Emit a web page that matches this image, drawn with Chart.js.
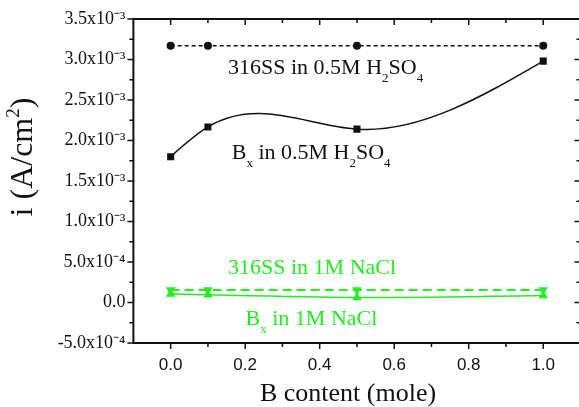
<!DOCTYPE html>
<html>
<head>
<meta charset="utf-8">
<script src="https://cdn.jsdelivr.net/npm/chart.js@4.4.1/dist/chart.umd.min.js"></script>
<style>
  html, body { margin: 0; padding: 0; background: #fff; overflow: hidden; }
  canvas { display: block; }
</style>
</head>
<body>
<canvas id="chart" width="579" height="407"></canvas>
<script>
// B content (mole)
var xValues = [0.0, 0.1, 0.5, 1.0];
// current density i (A/cm2)
var ss316H2SO4 = [3.17e-3, 3.17e-3, 3.17e-3, 3.17e-3];
var bxH2SO4 = [1.80e-3, 2.167e-3, 2.14e-3, 2.98e-3];
var ss316NaCl = [1.55e-4, 1.55e-4, 1.55e-4, 1.55e-4];
var bxNaCl = [1.05e-4, 0.95e-4, 0.62e-4, 0.85e-4];
// axis ticks
var xTicks = [0.0, 0.2, 0.4, 0.6, 0.8, 1.0];
var yTicks = [-5e-4, 0, 5e-4, 1e-3, 1.5e-3, 2e-3, 2.5e-3, 3e-3, 3.5e-3];

// the original frame runs to x = 1.1, a pixel or two past the picture edge
var X_FRAME_MAX = 1.1;
var X_VISIBLE_MAX = 1.096;

var BLACK = '#111';
var GREEN = '#22ee22';
var SERIF = "'Liberation Serif', 'Times New Roman', serif";
var SANS = "'Liberation Sans', Arial, sans-serif";

function toXY(ys) {
    return xValues.map(function (x, i) { return { x: x, y: ys[i] }; });
}

var supChars = { '-': '\u207B', '0': '\u2070', '1': '\u00B9', '2': '\u00B2', '3': '\u00B3', '4': '\u2074', '5': '\u2075', '6': '\u2076', '7': '\u2077', '8': '\u2078', '9': '\u2079' };
function sciLabel(v) {
    if (Math.abs(v) < 1e-12) return '0.0';
    var parts = v.toExponential(1).split('e');
    var exp = String(parseInt(parts[1], 10)).split('').map(function (c) { return supChars[c]; }).join('');
    return parts[0] + 'x10' + exp;
}

function midpoints(arr) {
    var out = [];
    for (var i = 0; i < arr.length - 1; i++) out.push((arr[i] + arr[i + 1]) / 2);
    return out;
}

// text labels placed in data coordinates; [text, 1] means subscript
var notes = [
    { x: 0.154, y: 2.82e-3, color: BLACK, parts: [['316SS in 0.5M H'], ['2', 1], ['SO'], ['4', 1]] },
    { x: 0.164, y: 1.768e-3, color: BLACK, parts: [['B'], ['x', 1], [' in 0.5M H'], ['2', 1], ['SO'], ['4', 1]] },
    { x: 0.154, y: 0.352e-3, color: GREEN, parts: [['316SS in 1M NaCl']] },
    { x: 0.201, y: -0.278e-3, color: GREEN, parts: [['B'], ['x', 1], [' in 1M NaCl']] }
];

// natural cubic spline through the plotted points (like Origin's spline connection)
var splinePlugin = {
    id: 'naturalSpline',
    beforeDatasetDraw: function (chart, args) {
        var ds = chart.data.datasets[args.index];
        if (!ds.spline) return;
        var pts = args.meta.data.map(function (p) { return { x: p.x, y: p.y }; });
        var n = pts.length;
        var h = [], s = [];
        for (var i = 0; i < n - 1; i++) {
            h.push(pts[i + 1].x - pts[i].x);
            s.push((pts[i + 1].y - pts[i].y) / h[i]);
        }
        var M = new Array(n).fill(0);
        if (n > 2) {
            var a = [], b = [], c = [], d = [];
            for (var k = 1; k < n - 1; k++) {
                a.push(h[k - 1]); b.push(2 * (h[k - 1] + h[k])); c.push(h[k]); d.push(6 * (s[k] - s[k - 1]));
            }
            var m = b.length;
            for (var j = 1; j < m; j++) {
                var w = a[j] / b[j - 1];
                b[j] -= w * c[j - 1];
                d[j] -= w * d[j - 1];
            }
            var sol = new Array(m);
            sol[m - 1] = d[m - 1] / b[m - 1];
            for (var q = m - 2; q >= 0; q--) sol[q] = (d[q] - c[q] * sol[q + 1]) / b[q];
            for (var r = 0; r < m; r++) M[r + 1] = sol[r];
        }
        var ctx = chart.ctx;
        ctx.save();
        ctx.strokeStyle = ds.borderColor;
        ctx.lineWidth = ds.splineWidth || 1.5;
        ctx.beginPath();
        ctx.moveTo(pts[0].x, pts[0].y);
        for (var t = 0; t < n - 1; t++) {
            var m0 = s[t] - h[t] * (2 * M[t] + M[t + 1]) / 6;
            var m1 = s[t] + h[t] * (M[t] + 2 * M[t + 1]) / 6;
            ctx.bezierCurveTo(pts[t].x + h[t] / 3, pts[t].y + m0 * h[t] / 3,
                pts[t + 1].x - h[t] / 3, pts[t + 1].y - m1 * h[t] / 3,
                pts[t + 1].x, pts[t + 1].y);
        }
        ctx.stroke();
        ctx.restore();
    }
};

// box frame with ticks on all four sides
var framePlugin = {
    id: 'frame',
    afterDatasetsDraw: function (chart) {
        var ctx = chart.ctx, a = chart.chartArea;
        var xs = chart.scales.x, ys = chart.scales.y;
        var right = xs.getPixelForValue(X_FRAME_MAX);
        ctx.save();
        ctx.strokeStyle = BLACK;
        ctx.lineWidth = 2;
        ctx.strokeRect(a.left, a.top, right - a.left, a.bottom - a.top);
        ctx.lineWidth = 1.5;
        ctx.beginPath();
        function xt(v, len) {
            var px = xs.getPixelForValue(v);
            ctx.moveTo(px, a.bottom); ctx.lineTo(px, a.bottom + len);
            ctx.moveTo(px, a.top); ctx.lineTo(px, a.top + len);
        }
        function yt(v, len) {
            var py = ys.getPixelForValue(v);
            ctx.moveTo(a.left, py); ctx.lineTo(a.left - len, py);
            ctx.moveTo(right, py); ctx.lineTo(right - len, py);
        }
        xTicks.forEach(function (v) { xt(v, 6); });
        midpoints(xTicks).forEach(function (v) { xt(v, 4); });
        yTicks.forEach(function (v) { yt(v, 6); });
        midpoints(yTicks).forEach(function (v) { yt(v, 4); });
        ctx.stroke();
        ctx.restore();
    }
};

var labelPlugin = {
    id: 'labels',
    afterDraw: function (chart) {
        var ctx = chart.ctx, a = chart.chartArea;
        var xs = chart.scales.x, ys = chart.scales.y;
        ctx.save();
        ctx.textBaseline = 'alphabetic';
        ctx.textAlign = 'left';
        notes.forEach(function (nt) {
            var px = xs.getPixelForValue(nt.x);
            var py = ys.getPixelForValue(nt.y);
            ctx.fillStyle = nt.color;
            nt.parts.forEach(function (p) {
                if (p[1]) {
                    ctx.font = '13px ' + SERIF;
                    ctx.fillText(p[0], px, py + 8);
                } else {
                    ctx.font = '22px ' + SERIF;
                    ctx.fillText(p[0], px, py);
                }
                px += ctx.measureText(p[0]).width;
            });
        });

        // x axis title
        ctx.fillStyle = BLACK;
        ctx.textAlign = 'center';
        ctx.font = '26px ' + SERIF;
        ctx.fillText('B content (mole)', xs.getPixelForValue(0.476), a.bottom + 58);

        // y axis title with superscript
        ctx.textAlign = 'left';
        ctx.translate(a.left - 101, (a.top + a.bottom) / 2 - 24);
        ctx.rotate(-Math.PI / 2);
        var big = '32px ' + SERIF, small = '19px ' + SERIF;
        ctx.font = big;
        var w1 = ctx.measureText('i (A/cm').width, w3 = ctx.measureText(')').width;
        ctx.font = small;
        var w2 = ctx.measureText('2').width;
        var x0 = -(w1 + w2 + w3) / 2;
        ctx.font = big;
        ctx.fillText('i (A/cm', x0, 0);
        ctx.font = small;
        ctx.fillText('2', x0 + w1, -13);
        ctx.font = big;
        ctx.fillText(')', x0 + w1 + w2, 0);
        ctx.restore();
    }
};

Chart.defaults.font.family = SERIF;
Chart.defaults.color = BLACK;

new Chart(document.getElementById('chart'), {
    type: 'line',
    data: {
        datasets: [
            {
                label: '316SS in 0.5M H2SO4',
                data: toXY(ss316H2SO4),
                borderColor: BLACK,
                backgroundColor: BLACK,
                borderWidth: 1.5,
                borderDash: [4, 3],
                pointStyle: 'circle',
                pointRadius: 4,
                pointBorderWidth: 0
            },
            {
                label: 'Bx in 0.5M H2SO4',
                data: toXY(bxH2SO4),
                borderColor: BLACK,
                backgroundColor: BLACK,
                showLine: false,
                spline: true,
                splineWidth: 1.5,
                pointStyle: 'rect',
                pointRadius: 5,
                pointBorderWidth: 0
            },
            {
                label: '316SS in 1M NaCl',
                data: toXY(ss316NaCl),
                borderColor: GREEN,
                backgroundColor: GREEN,
                borderWidth: 2,
                borderDash: [9, 5],
                pointStyle: 'triangle',
                pointRotation: 180,
                pointRadius: 5.5,
                pointBorderWidth: 0
            },
            {
                label: 'Bx in 1M NaCl',
                data: toXY(bxNaCl),
                borderColor: GREEN,
                backgroundColor: GREEN,
                showLine: false,
                spline: true,
                splineWidth: 1.5,
                pointStyle: 'triangle',
                pointRadius: 5.5,
                pointBorderWidth: 0
            }
        ]
    },
    options: {
        responsive: false,
        animation: false,
        events: [],
        layout: { autoPadding: false, padding: { left: 0, top: 19, right: 0, bottom: 0 } },
        plugins: {
            legend: { display: false },
            tooltip: { enabled: false }
        },
        scales: {
            x: {
                type: 'linear',
                min: -0.1,
                max: X_VISIBLE_MAX,
                grid: { display: false, drawTicks: false },
                border: { display: false },
                afterBuildTicks: function (scale) {
                    scale.ticks = xTicks.map(function (v) { return { value: v }; });
                },
                afterFit: function (scale) {
                    scale.height = 64;
                    scale.paddingLeft = 0;
                    scale.paddingRight = 0;
                },
                ticks: {
                    padding: 12,
                    maxRotation: 0,
                    autoSkip: false,
                    font: { family: SANS, size: 17 },
                    callback: function (v) { return v.toFixed(1); }
                }
            },
            y: {
                type: 'linear',
                min: -5e-4,
                max: 3.5e-3,
                grid: { display: false, drawTicks: false },
                border: { display: false },
                afterBuildTicks: function (scale) {
                    scale.ticks = yTicks.map(function (v) { return { value: v }; });
                },
                afterFit: function (scale) {
                    scale.width = 133.4;
                    scale.paddingTop = 0;
                    scale.paddingBottom = 0;
                },
                ticks: {
                    padding: 8,
                    autoSkip: false,
                    font: { family: SERIF, size: 18 },
                    callback: function (v) { return sciLabel(v); }
                }
            }
        }
    },
    plugins: [splinePlugin, framePlugin, labelPlugin]
});
</script>
</body>
</html>
